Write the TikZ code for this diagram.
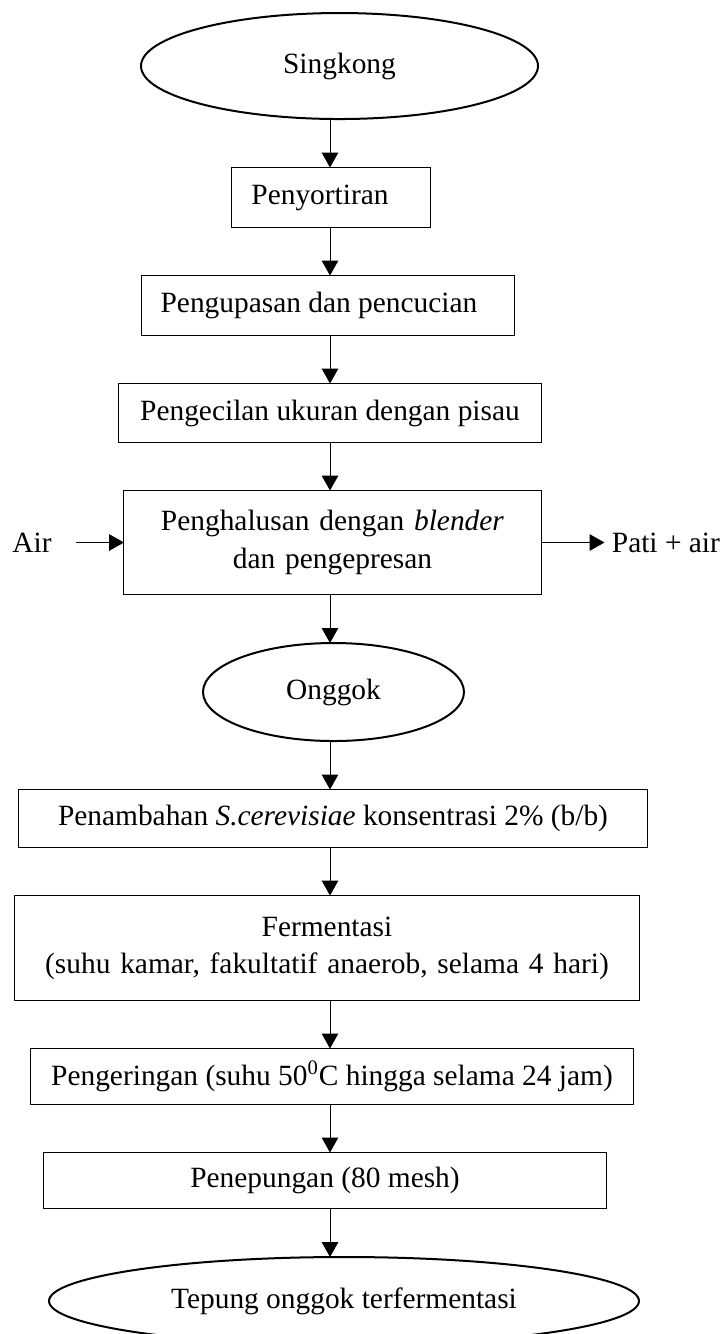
\documentclass[tikz,border=0pt]{standalone}
\usepackage{fontspec}
\setmainfont{Liberation Serif}
\usetikzlibrary{matrix,shapes.geometric,arrows.meta}
\tikzset{arrow/.style={line width=0.5pt, -{Triangle[width=8.3pt,length=7.5pt]}}}
\def\Flow{
    \matrix (flow)
    [matrix of nodes,
    ampersand replacement=\&,
    row sep={23.5pt},
    matrix anchor=flow-1-1.north,
    nodes={outer sep=0pt, inner sep=4.9pt, draw, rectangle, line width=0.5pt, minimum height=30pt, font=\fontsize{14.7pt}{18.6pt}\selectfont} ]
    at (169.75pt,-6.5pt)
    {
     |[ellipse, line width=1pt, minimum width=198.5pt, minimum height=53pt, xshift=4.75pt]| Singkong \\
     |[minimum width=99.25pt, xshift=0.5pt]| Penyortiran\hspace*{11pt} \\
     |[minimum width=186.75pt, xshift=-1pt]| Pengupasan dan pencucian\hspace*{9pt} \\
     |[minimum width=211pt, minimum height=29.5pt]| Pengecilan ukuran dengan pisau \\
     |[minimum width=208.5pt, minimum height=52pt, text width=190pt, align=center, xshift=1.25pt]| {Penghalusan dengan \textit{blender}\\ dan pengepresan} \\
     |[ellipse, line width=1pt, minimum width=130.5pt, minimum height=49pt, xshift=1.75pt]| Onggok \\
     |[minimum width=314.75pt, minimum height=29pt, xshift=1.5pt]| Penambahan \textit{S.cerevisiae} konsentrasi 2\% (b/b) \\
     |[minimum width=312.3pt, minimum height=52.5pt, text width=295pt, align=center, xshift=-1.5pt]| {Fermentasi\\ (suhu kamar, fakultatif anaerob, selama 4 hari)} \\
     |[minimum width=301.5pt, minimum height=28pt, xshift=1pt]| Pengeringan (suhu 50\textsuperscript{0}C hingga selama 24 jam) \\
     |[minimum width=281pt, minimum height=28pt, xshift=-2.5pt]| Penepungan (80 mesh) \\
     |[ellipse, line width=1pt, minimum width=295pt, minimum height=44pt, xshift=7pt]| Tepung onggok terfermentasi \\
    };
}

\begin{document}
\begin{tikzpicture}
    \useasboundingbox (0,0) rectangle (360pt,-667pt);
    \Flow
    \coordinate (axis) at (165pt,0);
    \node[anchor=east, inner sep=0pt, font=\fontsize{14.7pt}{18.6pt}\selectfont] (air) at ([xshift=-36pt]flow-5-1.west) {Air};
    \node[anchor=west, inner sep=0pt, font=\fontsize{14.7pt}{18.6pt}\selectfont] (pati) at ([xshift=35.25pt]flow-5-1.east) {Pati + air};

    \draw[arrow] (axis |- flow-1-1.south) -- (axis |- flow-2-1.north);
    \draw[arrow] (axis |- flow-2-1.south) -- (axis |- flow-3-1.north);
    \draw[arrow] (axis |- flow-3-1.south) -- (axis |- flow-4-1.north);
    \draw[arrow] (axis |- flow-4-1.south) -- (axis |- flow-5-1.north);
    \draw[arrow] (axis |- flow-5-1.south) -- (axis |- flow-6-1.north);
    \draw[arrow] (axis |- flow-6-1.south) -- (axis |- flow-7-1.north);
    \draw[arrow] (axis |- flow-7-1.south) -- (axis |- flow-8-1.north);
    \draw[arrow] (axis |- flow-8-1.south) -- (axis |- flow-9-1.north);
    \draw[arrow] (axis |- flow-9-1.south) -- (axis |- flow-10-1.north);
    \draw[arrow] (axis |- flow-10-1.south) -- (axis |- flow-11-1.north);

    \draw[arrow, shorten <=12pt] (air) -- (flow-5-1);
    \draw[arrow, shorten >=3.5pt] (flow-5-1) -- (pati);
\end{tikzpicture}
\end{document}
